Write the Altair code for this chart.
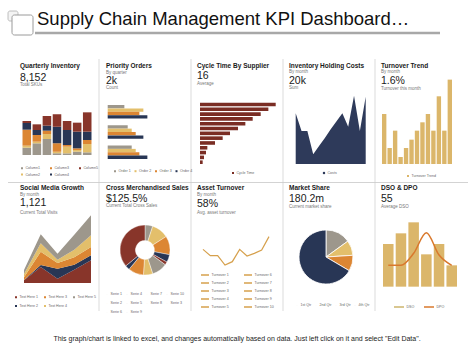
import altair as alt
import pandas as pd

FONT = "Liberation Sans"
RED, NAVY, ORANGE, GOLD, GRAY = "#88352a", "#283655", "#dc8633", "#e3bf6b", "#9d978c"
TAN = "#dbb66a"
ASSET = "#d6a04c"
DPOC = "#d9782c"
DSOC = "#cdb46c"
PALETTE = [GRAY, GOLD, ORANGE, NAVY, RED]

DASH_TITLE = "Supply Chain Management KPI Dashboard\u2026"
FOOTER = 'This graph/chart is linked to excel, and changes automatically  based on data. Just left click on it and select "Edit Data".'

# ---------------- data ----------------
inv_bars = ["B1", "B2", "B3", "B4", "B5", "B6", "B7"]
inv_series = ["Column1", "Column2", "Column3", "Column4", "Column5"]
inv_col1 = [22, 35, 48, 5, 5, 10, 8]
inv_col2 = [6, 5, 15, 5, 20, 5, 25]
inv_col3 = [48, 20, 10, 25, 5, 5, 12]
inv_col4 = [20, 15, 15, 50, 45, 50, 25]
inv_col5 = [6, 17, 29, 37, 27, 27, 58]

po_groups = ["G1", "G2", "G3"]
po_series = ["Order 1", "Order 2", "Order 3", "Order 4"]
po_g1 = [50, 107, 95, 119]
po_g2 = [60, 72, 84, 107]
po_g3 = [72, 84, 95, 119]

ct_suppliers = ["S%d" % i for i in range(1, 14)]
ct_values = [227, 205, 182, 158, 136, 114, 90, 68, 45, 22, 18, 12, 8]

ihc_months = list(range(1, 14))
ihc_values = [152, 99, 99, 29, 54, 78, 104, 128, 152, 112, 205, 99, 202]

tt_months = list(range(1, 14))
tt_values = [150, 48, 100, 21, 48, 73, 100, 125, 150, 100, 203, 100, 253]

sm_points = [1, 2, 3, 4, 5]
sm_series = ["Text Here 1", "Text Here 2", "Text Here 3", "Text Here 4", "Text Here 5"]
sm_t1 = [8, 48, 13, 40, 68]
sm_t2 = [1, 6, 30, 15, 15]
sm_t3 = [8, 40, 17, 22, 25]
sm_t4 = [10, 25, 10, 23, 35]
sm_t5 = [12, 27, 18, 45, 60]

cs_series = ["Serie 1", "Serie 2", "Serie 3", "Serie 4", "Serie 5",
             "Serie 6", "Serie 7", "Serie 8", "Serie 9", "Serie 10"]
cs_values = [5, 11, 12, 5, 2, 10, 6, 10, 3, 36]

at_points = list(range(1, 11))
at_values = [102, 83, 83, 55, 65, 102, 82, 90, 100, 140]
at_legend = ["Turnover %d" % i for i in range(1, 11)]

ms_series = ["1st Qtr", "2nd Qtr", "3rd Qtr", "4th Qtr"]
ms_values = [15, 9, 9.5, 66.5]

dd_periods = ["P1", "P2", "P3", "P4", "P5", "P6"]
dso_values = [128, 160, 193, 97, 128, 64]
dpo_values = [64, 64, 100, 162, 95, 64]

# ---------------- helpers ----------------
ONE = alt.Data(values=[{"k": 0}])
COLX = [8, 100, 192, 284, 376]
ROWY = [57, 182]


def T(s, x, y, size, bold=False, color="#1a1a1a", align="left", baseline="middle"):
    return alt.Chart(ONE).mark_text(
        text=s, fontSize=size, fontWeight="bold" if bold else "normal",
        font=FONT, color=color, align=align, baseline=baseline
    ).encode(x=alt.value(x), y=alt.value(y))


def header(X, Y, dx, title, ys, big, cap, sub=None):
    x = X + dx
    lay = [T(title, x, Y + ys[0], 6.5, bold=True)]
    if sub:
        lay.append(T(sub, x, Y + ys[1], 4.5, color="#777777"))
    lay.append(T(big, x, Y + ys[2], 10.5))
    lay.append(T(cap, x, Y + ys[3], 4.5, color="#777777"))
    return lay


def leg(x, y, cols=None, horiz=False, stype="square", ssize=4.0, sw=None,
        colpad=4.0, rowpad=2.0, font=3.6, loff=1.5):
    kw = dict(orient="none", legendX=x, legendY=y, title=None,
              direction="horizontal" if horiz else "vertical",
              labelFont=FONT, labelFontSize=font, labelColor="#666666",
              symbolType=stype, symbolSize=ssize, labelOffset=loff,
              columnPadding=colpad, rowPadding=rowpad, padding=0, labelLimit=200)
    if sw is not None:
        kw["symbolStrokeWidth"] = sw
    if cols:
        kw["columns"] = cols
    return alt.Legend(**kw)


def rng(a, b, off):
    return [a + off, b + off]


NOAX = dict(axis=None)
layers = []

for xs in [99, 191, 283, 375]:
    layers.append(alt.Chart(ONE).mark_rule(color="#d2d2d2", strokeWidth=0.8).encode(
        x=alt.value(xs), y=alt.value(59), y2=alt.value(311)))
layers.append(alt.Chart(ONE).mark_rule(color="#c8c8c8", strokeWidth=0.8).encode(
    x=alt.value(8), x2=alt.value(468), y=alt.value(182.5)))

# panel 1
X, Y = COLX[0], ROWY[0]
inv_cols = [inv_col1, inv_col2, inv_col3, inv_col4, inv_col5]
df1 = pd.DataFrame([{"b": b, "s": s, "v": inv_cols[j][i], "o": j}
                    for j, s in enumerate(inv_series) for i, b in enumerate(inv_bars)])
layers += header(X, Y, 12, "Quarterly Inventory", [9, 0, 21, 28], "8,152", "Total SKUs")
layers.append(alt.Chart(df1).mark_bar().encode(
    x=alt.X("b:N", sort=inv_bars, scale=alt.Scale(range=rng(14, 84, X), paddingInner=0.15, paddingOuter=0.05), **NOAX),
    y=alt.Y("v:Q", stack="zero", scale=alt.Scale(domain=[0, 150], range=rng(98, 48, Y), nice=False), **NOAX),
    color=alt.Color("s:N", scale=alt.Scale(domain=inv_series, range=PALETTE),
                    legend=leg(X + 12, Y + 109, cols=3, colpad=9, rowpad=2.5)),
    order=alt.Order("o:Q"),
))

# panel 2
X, Y = COLX[1], ROWY[0]
po_vals = [po_g1, po_g2, po_g3]
df2 = pd.DataFrame([{"g": g, "s": s, "v": po_vals[i][j]}
                    for i, g in enumerate(po_groups) for j, s in enumerate(po_series)])
layers += header(X, Y, 6, "Priority Orders", [9, 16, 24, 31], "2k", "Count", sub="By quarter")
layers.append(alt.Chart(df2).mark_bar().encode(
    y=alt.Y("g:N", sort=po_groups, scale=alt.Scale(range=rng(48, 102, Y), paddingInner=0.333, paddingOuter=0), **NOAX),
    yOffset=alt.YOffset("s:N", sort=po_series, scale=alt.Scale(paddingInner=0, paddingOuter=0)),
    x=alt.X("v:Q", scale=alt.Scale(domain=[0, 120], range=rng(7.7, 47.7, X), nice=False), **NOAX),
    color=alt.Color("s:N", scale=alt.Scale(domain=po_series, range=[GRAY, GOLD, ORANGE, NAVY]),
                    legend=leg(X + 13, Y + 112, horiz=True, colpad=2.5)),
))

# panel 3
X, Y = COLX[2], ROWY[0]
df3 = pd.DataFrame({"sup": ct_suppliers, "v": ct_values, "s": "Cycle Time"})
layers += header(X, Y, 5, "Cycle Time By Supplier", [9, 0, 19, 27], "16", "Average")
layers.append(alt.Chart(df3).mark_bar().encode(
    y=alt.Y("sup:N", sort=ct_suppliers, scale=alt.Scale(range=rng(45.7, 107, Y), paddingInner=0.25, paddingOuter=0), **NOAX),
    x=alt.X("v:Q", scale=alt.Scale(domain=[0, 227], range=rng(8, 83.7, X), nice=False), **NOAX),
    color=alt.Color("s:N", scale=alt.Scale(domain=["Cycle Time"], range=["#7a2d24"]),
                    legend=leg(X + 39, Y + 114)),
))

# panel 4
X, Y = COLX[3], ROWY[0]
df4 = pd.DataFrame({"m": ihc_months, "v": ihc_values, "s": "Costs"})
layers += header(X, Y, 5, "Inventory Holding Costs", [9, 15, 24, 31], "20k", "Sum", sub="By month")
layers.append(alt.Chart(df4).mark_area(opacity=1).encode(
    x=alt.X("m:Q", scale=alt.Scale(domain=[1, 13], range=rng(11.7, 81.7, X), nice=False, zero=False), **NOAX),
    y=alt.Y("v:Q", scale=alt.Scale(domain=[0, 210], range=rng(107, 37, Y), nice=False), **NOAX),
    color=alt.Color("s:N", scale=alt.Scale(domain=["Costs"], range=["#2e3a5a"]),
                    legend=leg(X + 38, Y + 114, stype="circle", ssize=6)),
))

# panel 5
X, Y = COLX[4], ROWY[0]
df5 = pd.DataFrame({"m": tt_months, "v": tt_values, "s": "Turnover Trend"})
layers += header(X, Y, 5, "Turnover Trend", [9, 15, 24, 32], "1.6%", "Turnover this month", sub="By month")
layers.append(alt.Chart(df5).mark_bar().encode(
    x=alt.X("m:O", scale=alt.Scale(range=rng(6, 76, X), paddingInner=0.2, paddingOuter=0), **NOAX),
    y=alt.Y("v:Q", scale=alt.Scale(domain=[0, 260], range=rng(107, 20.3, Y), nice=False), **NOAX),
    color=alt.Color("s:N", scale=alt.Scale(domain=["Turnover Trend"], range=[TAN]),
                    legend=leg(X + 30, Y + 117)),
))

# panel 6
X, Y = COLX[0], ROWY[1]
sm_cols = [sm_t1, sm_t2, sm_t3, sm_t4, sm_t5]
df6 = pd.DataFrame([{"p": p, "s": s, "v": sm_cols[j][i], "o": j}
                    for j, s in enumerate(sm_series) for i, p in enumerate(sm_points)])
layers += header(X, Y, 12, "Social Media Growth", [6, 13, 21, 31], "1,121", "Current Total Visits", sub="By month")
layers.append(alt.Chart(df6).mark_area(opacity=1).encode(
    x=alt.X("p:Q", scale=alt.Scale(domain=[1, 5], range=rng(16, 83, X), nice=False, zero=False), **NOAX),
    y=alt.Y("v:Q", stack="zero", scale=alt.Scale(domain=[0, 210], range=rng(101, 31, Y), nice=False), **NOAX),
    color=alt.Color("s:N", scale=alt.Scale(domain=sm_series, range=[RED, NAVY, ORANGE, GOLD, GRAY]),
                    legend=leg(X + 6, Y + 113, cols=3, colpad=5, rowpad=5)),
    order=alt.Order("o:Q"),
))

# panel 7
X, Y = COLX[1], ROWY[1]
df7 = pd.DataFrame({"s": cs_series, "v": cs_values, "o": list(range(len(cs_series)))})
layers += header(X, Y, 6, "Cross Merchandised Sales", [6, 0, 17, 24], "$125.5%", "Current Total Cross Sales")
layers.append(alt.Chart(df7).mark_arc(radius=25, innerRadius=9.5, stroke="white", strokeWidth=0.4).encode(
    theta=alt.Theta("v:Q", stack=True),
    color=alt.Color("s:N", scale=alt.Scale(domain=cs_series, range=PALETTE * 2),
                    legend=leg(X + 5, Y + 110, cols=4, colpad=1, rowpad=1.2, ssize=3)),
    order=alt.Order("o:Q"),
    x=alt.value(X + 45), y=alt.value(Y + 68),
))

# panel 8
X, Y = COLX[2], ROWY[1]
df8 = pd.DataFrame({"i": at_points, "v": at_values, "s": "Turnover 1"})
layers += header(X, Y, 5, "Asset Turnover", [6, 13, 22, 31], "58%", "Avg. asset turnover", sub="By month")
layers.append(alt.Chart(df8).mark_line(strokeWidth=1.2).encode(
    x=alt.X("i:Q", scale=alt.Scale(domain=[1, 10], range=rng(11, 77, X), nice=False, zero=False), **NOAX),
    y=alt.Y("v:Q", scale=alt.Scale(domain=[0, 150], range=rng(101.33, 51.33, Y), nice=False), **NOAX),
    color=alt.Color("s:N", scale=alt.Scale(domain=at_legend, range=[ASSET] * 10),
                    legend=leg(X + 8, Y + 88, cols=2, stype="stroke", ssize=64, sw=1.5, colpad=12, rowpad=0)),
))

# panel 9
X, Y = COLX[3], ROWY[1]
df9 = pd.DataFrame({"s": ms_series, "v": ms_values, "o": list(range(len(ms_series)))})
layers += header(X, Y, 5, "Market Share", [6, 0, 17, 25], "180.2m", "Current market share")
layers.append(alt.Chart(df9).mark_arc(radius=27, stroke="white", strokeWidth=0.8).encode(
    theta=alt.Theta("v:Q", stack=True),
    color=alt.Color("s:N", scale=alt.Scale(domain=ms_series, range=[GRAY, GOLD, ORANGE, NAVY]),
                    legend=leg(X + 11, Y + 121, horiz=True, colpad=0, ssize=3)),
    order=alt.Order("o:Q"),
    x=alt.value(X + 42), y=alt.value(Y + 75),
))

# panel 10
X, Y = COLX[4], ROWY[1]
df10b = pd.DataFrame({"p": dd_periods, "v": dso_values})
df10l = pd.DataFrame({"p": dd_periods, "v": dpo_values, "s": "DPO"})
layers += header(X, Y, 5, "DSO & DPO", [6, 0, 17, 25], "55", "Average DSO")
xs10 = alt.X("p:N", sort=dd_periods, scale=alt.Scale(range=rng(7, 81, X), paddingInner=0.17, paddingOuter=0), **NOAX)
ys10 = alt.Y("v:Q", scale=alt.Scale(domain=[0, 200], range=rng(104.67, 38, Y), nice=False), **NOAX)
p10b = alt.Chart(df10b).mark_bar(color=TAN).encode(x=xs10, y=ys10)
p10l = alt.Chart(df10l).mark_line(strokeWidth=1.5, interpolate="monotone").encode(
    x=xs10, y=ys10,
    color=alt.Color("s:N", scale=alt.Scale(domain=["DSO", "DPO"], range=[DSOC, DPOC]),
                    legend=leg(X + 17, Y + 119, horiz=True, stype="stroke", ssize=100, sw=1.5, colpad=6)),
)
layers.append(alt.layer(p10b, p10l))

# header & footer
layers.append(alt.Chart(ONE).mark_rect(fill="#f4f4f4", stroke="#b0b0b0", strokeWidth=0.8, cornerRadius=2).encode(
    x=alt.value(8), x2=alt.value(18), y=alt.value(11), y2=alt.value(21)))
layers.append(alt.Chart(ONE).mark_rect(fill="white", stroke="#9a9a9a", strokeWidth=1, cornerRadius=2.5).encode(
    x=alt.value(12), x2=alt.value(33), y=alt.value(15), y2=alt.value(35)))
layers.append(alt.Chart(ONE).mark_rule(color="#a8a8a8", strokeWidth=2.5).encode(
    x=alt.value(35), x2=alt.value(440), y=alt.value(33)))
layers.append(T(DASH_TITLE, 37, 25, 18.5, color="#111111", baseline="alphabetic"))
layers.append(T(FOOTER, 237, 339, 7, color="#222222", align="center"))

RES = dict(color="independent", theta="independent", x="independent", y="independent", yOffset="independent")
chart = alt.layer(*layers).resolve_scale(**RES).properties(
    width=474, height=355, padding=0, autosize="none", background="white",
).configure_view(stroke=None)

chart.save("out.html", embed_options={"renderer": "svg", "actions": False})
